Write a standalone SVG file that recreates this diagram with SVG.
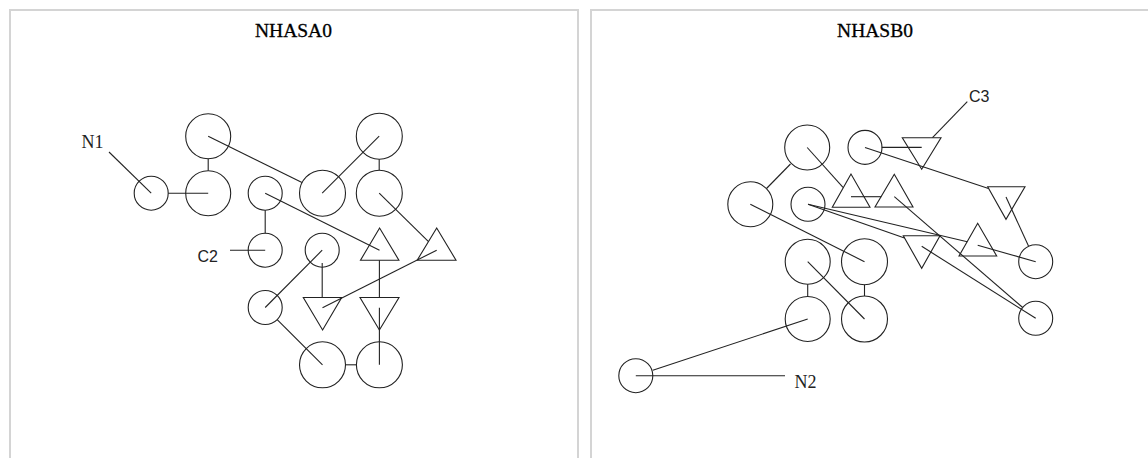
<svg xmlns="http://www.w3.org/2000/svg" width="1148" height="458" viewBox="0 0 1148 458">
  <style>
    .panel { fill: #ffffff; stroke: #d4d4d4; stroke-width: 2; }
    .title { font-family: "Liberation Serif", "Times New Roman", serif; font-size: 19.5px; fill: #000; text-anchor: middle; stroke: #000; stroke-width: 0.3; }
    .lbl-serif { font-family: "Liberation Serif", "Times New Roman", serif; font-size: 18px; fill: #222; }
    .lbl-sans { font-family: "Liberation Sans", Arial, sans-serif; font-size: 16px; fill: #222; }
    .node { fill: none; stroke: #222; stroke-width: 1.1; }
    .edge { fill: none; stroke: #222; stroke-width: 1.1; }
  </style>

  <!-- panel frames -->
  <rect class="panel" x="10" y="10" width="568" height="470"/>
  <rect class="panel" x="591" y="10" width="568" height="470"/>

  <text class="title" x="293.5" y="37">NHASA0</text>
  <text class="title" x="875" y="37">NHASB0</text>

  <!-- ===== NHASA0 ===== -->
  <g id="connectors-a">
    <line class="edge" x1="109" y1="152" x2="151.2" y2="193.2"/>
    <line class="edge" x1="168.2" y1="193.2" x2="208.2" y2="193.2"/>
    <line class="edge" x1="208.2" y1="158.7" x2="208.2" y2="170.7"/>
    <line class="edge" x1="208.2" y1="136.2" x2="302" y2="182.6"/>
    <line class="edge" x1="379.2" y1="136.2" x2="322.2" y2="193.2"/>
    <line class="edge" x1="379.2" y1="159.2" x2="379.2" y2="170.2"/>
    <line class="edge" x1="379.2" y1="193.2" x2="428.5" y2="241.7"/>
    <line class="edge" x1="265.2" y1="193.2" x2="379.5" y2="250.2"/>
    <line class="edge" x1="265.2" y1="210.2" x2="265.2" y2="233.2"/>
    <line class="edge" x1="230" y1="250.2" x2="265.2" y2="250.2"/>
    <line class="edge" x1="322.2" y1="250.2" x2="265.2" y2="307.5"/>
    <line class="edge" x1="322.2" y1="263" x2="322.2" y2="297.5"/>
    <line class="edge" x1="436.7" y1="250.2" x2="322.5" y2="307.7"/>
    <line class="edge" x1="379.4" y1="260.2" x2="379.4" y2="297.5"/>
    <line class="edge" x1="379.4" y1="307.7" x2="379.4" y2="364.8"/>
    <line class="edge" x1="277.2" y1="319.7" x2="322.5" y2="364.8"/>
    <line class="edge" x1="345.5" y1="364.8" x2="356.5" y2="364.8"/>
  </g>

  <g id="a-n1"><circle class="node" cx="151.2" cy="193.2" r="17"/><text class="lbl-serif" x="81.5" y="148">N1</text></g>
  <g id="a-b"><circle class="node" cx="208.2" cy="136.2" r="22.5"/></g>
  <g id="a-c"><circle class="node" cx="208.2" cy="193.2" r="22.5"/></g>
  <g id="a-d"><circle class="node" cx="265.2" cy="193.2" r="17"/></g>
  <g id="a-c2"><circle class="node" cx="265.2" cy="250.2" r="17"/><text class="lbl-sans" x="197.5" y="261.7">C2</text></g>
  <g id="a-f"><circle class="node" cx="322.5" cy="193.2" r="23"/></g>
  <g id="a-g"><circle class="node" cx="379.3" cy="136.2" r="23"/></g>
  <g id="a-h"><circle class="node" cx="379.3" cy="193.2" r="23"/></g>
  <g id="a-i"><circle class="node" cx="322.2" cy="250.2" r="17"/></g>
  <g id="a-j"><circle class="node" cx="265.2" cy="307.5" r="17"/></g>
  <g id="a-k"><circle class="node" cx="322.5" cy="364.8" r="23"/></g>
  <g id="a-l"><circle class="node" cx="379.4" cy="364.8" r="23"/></g>
  <g id="a-t1"><polygon class="node" points="379.6,228 360.5,260.2 398.9,260.2"/></g>
  <g id="a-t2"><polygon class="node" points="436.7,228 417.2,260.2 456,260.2"/></g>
  <g id="a-t3"><polygon class="node" points="303.3,297.5 341.7,297.5 322.6,330"/></g>
  <g id="a-t4"><polygon class="node" points="360,297.5 399,297.5 379.4,330"/></g>

  <!-- ===== NHASB0 ===== -->
  <g id="connectors-b">
    <line class="edge" x1="766.5" y1="188.5" x2="790.5" y2="164"/>
    <line class="edge" x1="807.2" y1="147.5" x2="843" y2="187.3"/>
    <line class="edge" x1="851" y1="196.7" x2="881.3" y2="196.7"/>
    <line class="edge" x1="881.7" y1="147.4" x2="921.7" y2="147.4"/>
    <line class="edge" x1="865" y1="147.4" x2="988.5" y2="188.5"/>
    <line class="edge" x1="1006" y1="197" x2="1028.5" y2="246"/>
    <line class="edge" x1="894.3" y1="196.7" x2="1022.7" y2="307.5"/>
    <line class="edge" x1="808" y1="204.3" x2="967.3" y2="241.7"/>
    <line class="edge" x1="808" y1="204.3" x2="904.5" y2="238"/>
    <line class="edge" x1="977.7" y1="245.3" x2="1035.7" y2="261.7"/>
    <line class="edge" x1="921.7" y1="246.3" x2="1035.7" y2="318.3"/>
    <line class="edge" x1="967.3" y1="101.7" x2="932.5" y2="137.7"/>
    <line class="edge" x1="750.3" y1="204.3" x2="864.5" y2="261.7"/>
    <line class="edge" x1="807.7" y1="261.7" x2="864.5" y2="319"/>
    <line class="edge" x1="807.7" y1="284.2" x2="807.7" y2="296.5"/>
    <line class="edge" x1="864.5" y1="284.7" x2="864.5" y2="296"/>
    <line class="edge" x1="807.7" y1="319" x2="652.8" y2="370.3"/>
    <line class="edge" x1="635.8" y1="375.7" x2="785" y2="375.7"/>
  </g>

  <g id="b-p"><circle class="node" cx="807.2" cy="147.5" r="22.5"/></g>
  <g id="b-q"><circle class="node" cx="865" cy="147.4" r="17"/></g>
  <g id="b-r"><circle class="node" cx="750.3" cy="204.3" r="22.5"/></g>
  <g id="b-s"><circle class="node" cx="808" cy="204.3" r="17"/></g>
  <g id="b-x1"><circle class="node" cx="807.7" cy="261.7" r="22.5"/></g>
  <g id="b-x2"><circle class="node" cx="864.5" cy="261.7" r="23"/></g>
  <g id="b-x3"><circle class="node" cx="807.7" cy="319" r="22.5"/></g>
  <g id="b-x4"><circle class="node" cx="864.5" cy="319" r="23"/></g>
  <g id="b-n2"><circle class="node" cx="635.8" cy="375.7" r="17"/><text class="lbl-serif" x="794.5" y="387.5">N2</text></g>
  <g id="b-w1"><circle class="node" cx="1035.7" cy="261.7" r="17"/></g>
  <g id="b-w2"><circle class="node" cx="1035.7" cy="318.3" r="17"/></g>
  <g id="b-u1"><polygon class="node" points="851,174 832.3,207.3 870,207.3"/></g>
  <g id="b-u2"><polygon class="node" points="894.3,174.3 875,207 913,207"/></g>
  <g id="b-u3"><polygon class="node" points="977.7,223.3 959,256 996.7,256"/></g>
  <g id="b-c3"><polygon class="node" points="902.3,137.7 941,137.7 921.7,169.3"/><text class="lbl-sans" x="969" y="101.7">C3</text></g>
  <g id="b-d1"><polygon class="node" points="903.3,235.7 940,235.7 921.7,268.3"/></g>
  <g id="b-d2"><polygon class="node" points="987.7,186.7 1025,186.7 1006,219.3"/></g>
</svg>
